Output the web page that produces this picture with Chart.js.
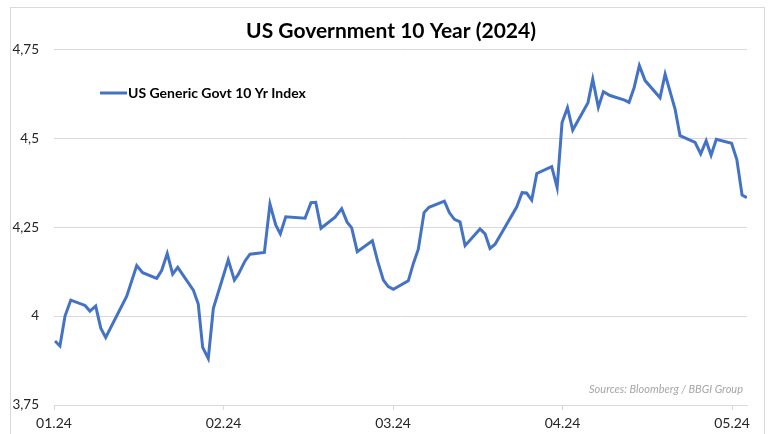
<!DOCTYPE html>
<html>
<head>
<meta charset="utf-8">
<title>US Government 10 Year (2024)</title>
<script src="https://cdn.jsdelivr.net/npm/chart.js@4.4.1/dist/chart.umd.min.js"></script>
<style>
  html, body { margin: 0; padding: 0; background: #ffffff; overflow: hidden; }
  #wrap { width: 772px; height: 434px; position: relative; }
</style>
</head>
<body>
<div id="wrap"><canvas id="chart-us10y" width="772" height="434"></canvas></div>
<script>
// month labels on the x axis (one tick per month)
const tickLabels = ['01.24', '02.24', '03.24', '04.24', '05.24'];

// position of each vertex, in months since 01.24
const monthPos = [
    0.006, 0.035, 0.065, 0.099, 0.183, 0.212, 0.246, 0.276, 0.305, 0.429,
    0.488, 0.523, 0.606, 0.635, 0.668, 0.700, 0.730, 0.822, 0.851, 0.877,
    0.910, 0.940, 1.028, 1.064, 1.087, 1.127, 1.156, 1.241, 1.274, 1.308,
    1.335, 1.367, 1.481, 1.516, 1.544, 1.575, 1.658, 1.697, 1.729, 1.756,
    1.789, 1.878, 1.910, 1.943, 1.972, 2.002, 2.090, 2.120, 2.149, 2.183,
    2.212, 2.303, 2.332, 2.362, 2.395, 2.425, 2.513, 2.543, 2.572, 2.602,
    2.730, 2.761, 2.788, 2.818, 2.848, 2.936, 2.968, 2.997, 3.029, 3.060,
    3.150, 3.178, 3.211, 3.241, 3.280, 3.366, 3.392, 3.422, 3.453, 3.487,
    3.575, 3.605, 3.664, 3.693, 3.782, 3.815, 3.847, 3.876, 3.907, 3.997,
    4.028, 4.059, 4.087
];

// US Generic Govt 10 Yr yield (%)
const yieldValues = [
    3.930, 3.916, 4.000, 4.045, 4.030, 4.014, 4.028, 3.966, 3.940, 4.056,
    4.142, 4.122, 4.106, 4.128, 4.176, 4.118, 4.137, 4.073, 4.034, 3.912,
    3.881, 4.022, 4.158, 4.101, 4.117, 4.155, 4.174, 4.179, 4.315, 4.256,
    4.231, 4.279, 4.275, 4.319, 4.320, 4.247, 4.278, 4.302, 4.264, 4.248,
    4.181, 4.212, 4.153, 4.101, 4.083, 4.075, 4.099, 4.148, 4.188, 4.291,
    4.306, 4.323, 4.291, 4.272, 4.265, 4.198, 4.245, 4.231, 4.190, 4.202,
    4.307, 4.347, 4.346, 4.326, 4.401, 4.420, 4.361, 4.544, 4.586, 4.523,
    4.600, 4.666, 4.587, 4.631, 4.620, 4.607, 4.601, 4.642, 4.704, 4.662,
    4.614, 4.680, 4.581, 4.507, 4.488, 4.456, 4.493, 4.452, 4.497, 4.486,
    4.440, 4.340, 4.333
];

const seriesLabel = 'US Generic Govt 10 Yr Index';
const chartTitle = 'US Government 10 Year (2024)';
const sourceNote = 'Sources: Bloomberg / BBGI Group';

const FONT = 'Lato, "Open Sans", sans-serif';
const LINE_COLOR = '#4472c4';
const GRID_COLOR = '#d9d9d9';

// frame, title, legend and source note drawn on the canvas
const decorPlugin = {
    id: 'decor',
    beforeDraw(chart) {
        const ctx = chart.ctx;
        ctx.save();
        ctx.fillStyle = '#ffffff';
        ctx.fillRect(0, 0, chart.width, chart.height);
        ctx.strokeStyle = GRID_COLOR;
        ctx.lineWidth = 1;
        ctx.strokeRect(10.5, 7.5, 754, 440);
        ctx.restore();
    },
    afterDraw(chart) {
        const ctx = chart.ctx;
        ctx.save();
        // title
        ctx.fillStyle = '#000000';
        ctx.font = 'bold 21px ' + FONT;
        ctx.textAlign = 'center';
        ctx.textBaseline = 'middle';
        ctx.fillText(chartTitle, 391, 31);

        // legend
        ctx.strokeStyle = LINE_COLOR;
        ctx.lineWidth = 3;
        ctx.beginPath();
        ctx.moveTo(100, 93);
        ctx.lineTo(127, 93);
        ctx.stroke();
        ctx.fillStyle = '#000000';
        ctx.font = 'bold 14px ' + FONT;
        ctx.textAlign = 'left';
        ctx.fillText(seriesLabel, 128, 93);

        // source note
        ctx.fillStyle = '#a6a6a6';
        ctx.font = 'italic 11px ' + FONT;
        ctx.textAlign = 'right';
        ctx.fillText(sourceNote, 743, 389);
        ctx.restore();
    }
};

const ctx = document.getElementById('chart-us10y').getContext('2d');

new Chart(ctx, {
    type: 'line',
    data: {
        datasets: [{
            label: seriesLabel,
            data: monthPos.map((m, i) => ({ x: m, y: yieldValues[i] })),
            borderColor: LINE_COLOR,
            borderWidth: 3,
            pointRadius: 0,
            tension: 0,
            fill: false
        }]
    },
    options: {
        responsive: false,
        animation: false,
        devicePixelRatio: 1,
        layout: {
            padding: { left: 0, right: 25, top: 49.3, bottom: 0 }
        },
        plugins: {
            legend: { display: false },
            title: { display: false },
            tooltip: { enabled: false }
        },
        scales: {
            x: {
                type: 'linear',
                min: 0,
                max: 4.088,
                afterFit(scale) { scale.height = 29; },
                afterBuildTicks(scale) {
                    scale.ticks = tickLabels.map((_, i) => ({ value: i }));
                },
                grid: {
                    drawOnChartArea: false,
                    drawTicks: true,
                    tickLength: 5,
                    color: GRID_COLOR
                },
                border: { display: true, color: GRID_COLOR },
                ticks: {
                    padding: 5,
                    maxRotation: 0,
                    autoSkip: false,
                    color: '#262626',
                    font: { family: FONT, size: 14 },
                    callback: (value) => tickLabels[Math.round(value)] ?? ''
                }
            },
            y: {
                min: 3.75,
                max: 4.75,
                afterFit(scale) { scale.width = 54; },
                grid: {
                    color: GRID_COLOR,
                    drawTicks: false
                },
                border: { display: false },
                ticks: {
                    stepSize: 0.25,
                    padding: 15,
                    color: '#262626',
                    font: { family: FONT, size: 13.5 },
                    callback: (value) => String(value).replace('.', ',')
                }
            }
        }
    },
    plugins: [decorPlugin]
});
</script>
</body>
</html>
